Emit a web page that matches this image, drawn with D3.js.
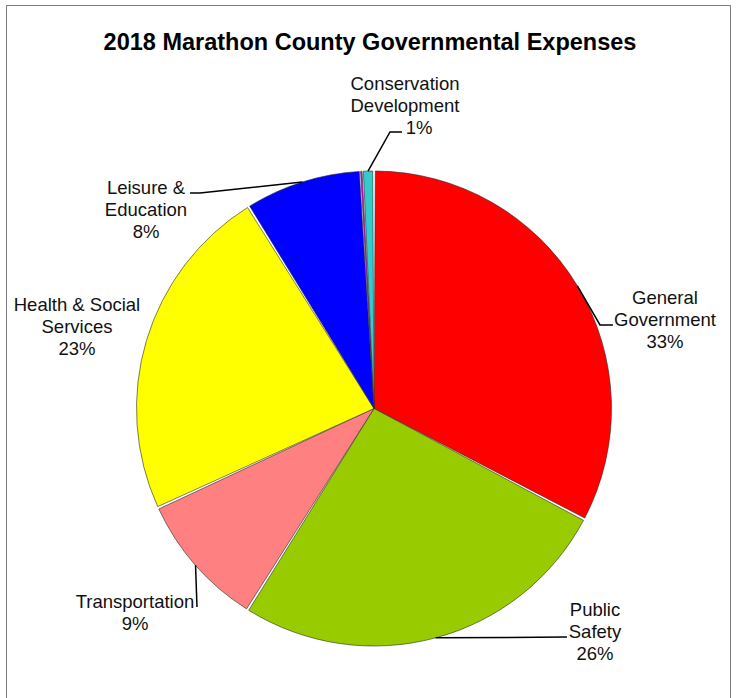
<!DOCTYPE html>
<html>
<head>
<meta charset="utf-8">
<script src="https://cdn.jsdelivr.net/npm/d3@7"></script>
<style>
  html, body { margin: 0; padding: 0; background: #fff; }
  svg { display: block; font-family: "Liberation Sans", Arial, sans-serif; }
  .lbl { font-size: 18.5px; fill: #111; }
  .title { font-size: 23.5px; font-weight: bold; fill: #000; }
</style>
</head>
<body>
<div id="chart"></div>
<script>
// Pie: 2018 Marathon County Governmental Expenses

const categories = [
  "General Government",
  "Public Safety",
  "Transportation",
  "Health & Social Services",
  "Leisure & Education",
  "Other",
  "Conservation Development"
];
const shares = [32.7, 26.2, 9.2, 23.0, 7.95, 0.1, 0.8];
const pctLabels = ["33%", "26%", "9%", "23%", "8%", null, "1%"];
const colors = ["#ff0000", "#99cc00", "#ff8080", "#ffff00", "#0000ff", "#ff00ff", "#33cccc"];

(function () {
  const W = 738, H = 698;
  const cx = 374, cy = 408.5, R = 237.5;

  // label layout: text lines, block center x, first line baseline, leader elbow
  const labelLayout = {
    "General Government": { lines: ["General", "Government"], x: 665, y: 304, leader: [[613, 325], [600, 325]] },
    "Public Safety": { lines: ["Public", "Safety"], x: 595, y: 616, leader: [[567, 637]] },
    "Transportation": { lines: ["Transportation"], x: 135, y: 608, leader: [[197, 607]] },
    "Health & Social Services": { lines: ["Health & Social", "Services"], x: 77, y: 311, leader: null },
    "Leisure & Education": { lines: ["Leisure &", "Education"], x: 146, y: 194, leader: [[190, 193], [200, 193]] },
    "Conservation Development": { lines: ["Conservation", "Development"], x: 405, y: 90, leader: [[402, 132], [390, 132]], pctDx: 14 }
  };
  const lineH = 22;

  const svg = d3.select("#chart").append("svg")
    .attr("width", W).attr("height", H);

  // frame
  svg.append("rect")
    .attr("x", 6.5).attr("y", 5.5)
    .attr("width", 724).attr("height", H)
    .attr("fill", "none").attr("stroke", "#808080").attr("stroke-width", 1);

  svg.append("text")
    .attr("class", "title")
    .attr("x", 370).attr("y", 50)
    .attr("text-anchor", "middle")
    .text("2018 Marathon County Governmental Expenses");

  const data = categories.map((c, i) => ({ name: c, value: shares[i], pct: pctLabels[i], color: colors[i] }));

  const pie = d3.pie().sort(null).value(d => d.value);
  const arcs = pie(data);

  // white gap between slices, but keep the tiny sliver visible
  const arc = d3.arc().innerRadius(0).outerRadius(R)
    .padAngle(d => d.data.value < 0.5 ? 0 : 0.011);

  const g = svg.append("g").attr("transform", `translate(${cx},${cy})`);

  g.selectAll("path.slice")
    .data(arcs)
    .enter()
    .append("path")
    .attr("class", "slice")
    .attr("d", arc)
    .attr("fill", d => d.data.color)
    .attr("stroke", "#2a2a2a")
    .attr("stroke-width", 0.6);

  // leader lines + labels
  arcs.forEach(a => {
    const lay = labelLayout[a.data.name];
    if (!lay) return;
    const mid = (a.startAngle + a.endAngle) / 2;
    const edge = [cx + R * Math.sin(mid), cy - R * Math.cos(mid)];

    if (lay.leader) {
      const pts = lay.leader.concat([edge]);
      svg.append("path")
        .attr("d", d3.line()(pts))
        .attr("fill", "none")
        .attr("stroke", "#000")
        .attr("stroke-width", 1.5);
    }

    const t = svg.append("text")
      .attr("class", "lbl")
      .attr("text-anchor", "middle");
    lay.lines.concat([a.data.pct]).forEach((ln, i) => {
      t.append("tspan")
        .attr("x", lay.x + (i === lay.lines.length && lay.pctDx ? lay.pctDx : 0))
        .attr("y", lay.y + i * lineH)
        .text(ln);
    });
  });
})();
</script>
</body>
</html>
